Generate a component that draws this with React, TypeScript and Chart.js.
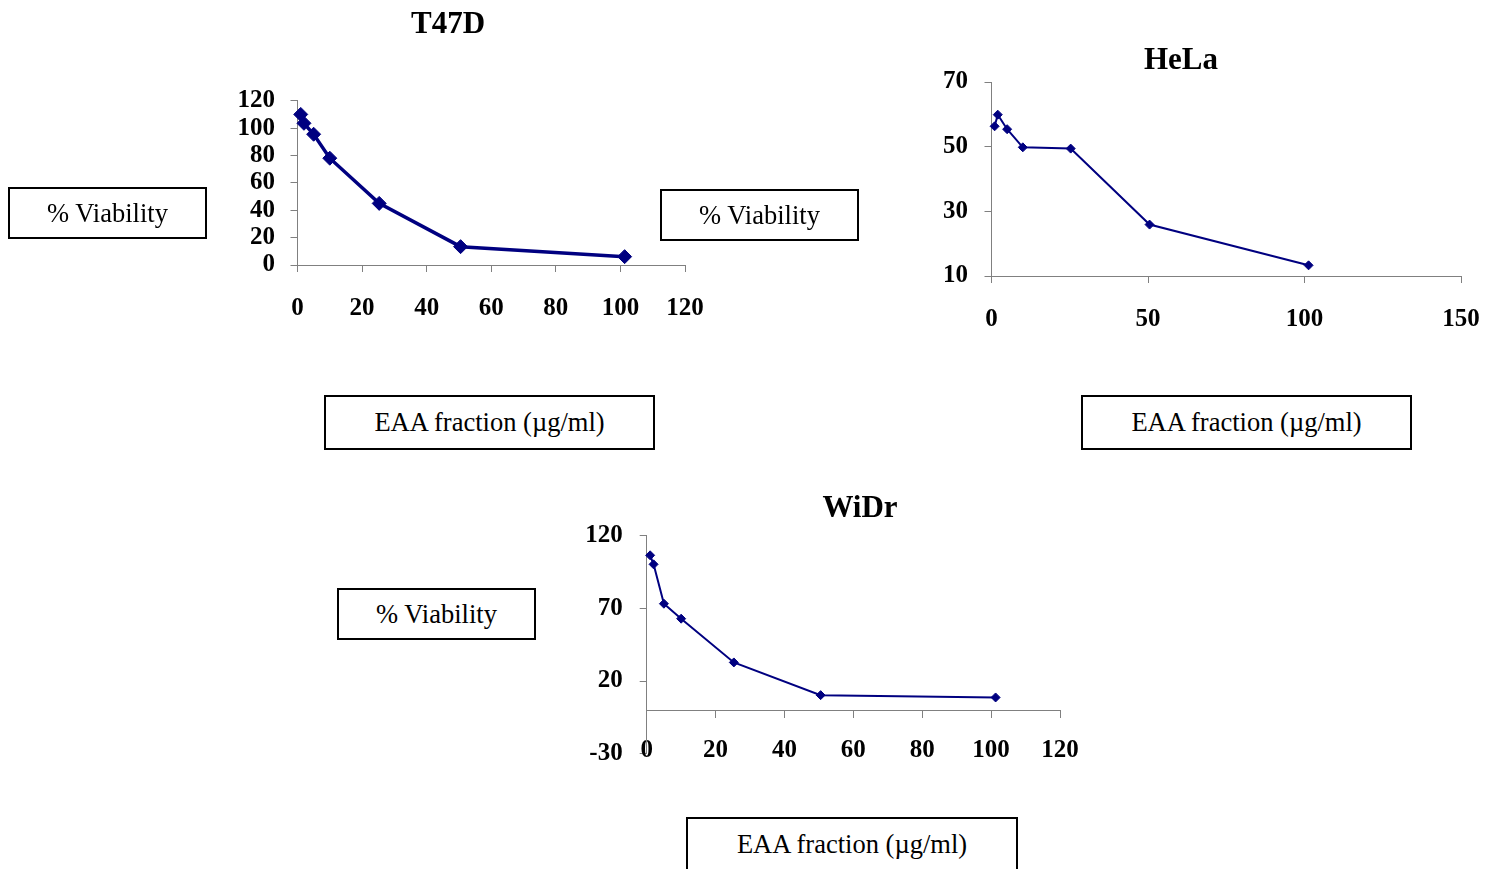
import React, { useEffect, useRef } from "react";
import { Chart, registerables } from "chart.js";

Chart.register(...registerables);

// ---- data ----
const eaaConcentration = [1, 2, 5, 10, 25.3, 50.5, 101.3];
const t47dViability = [110, 103.5, 95.5, 78, 45, 13.4, 6.1];
const helaViability = [56.3, 59.9, 55.4, 49.8, 49.4, 25.9, 13.3];
const widrViability = [106.5, 100.3, 73.2, 62.9, 32.8, 10.3, 8.7];

const t47dXTicks = [0, 20, 40, 60, 80, 100, 120];
const t47dYTicks = [0, 20, 40, 60, 80, 100, 120];
const helaXTicks = [0, 50, 100, 150];
const helaYTicks = [10, 30, 50, 70];
const widrXTicks = [0, 20, 40, 60, 80, 100, 120];
const widrYTicks = [-30, 20, 70, 120];

const yAxisLabel = "% Viability";
const xAxisLabel = "EAA fraction (\u00b5g/ml)";

const NAVY = "#000080";
const AXIS = "#808080";
const SERIF = "'Liberation Serif', 'Times New Roman', Times, serif";

type Spec = {
  title: string;
  values: number[];
  xTicks: number[];
  yTicks: number[];
  left: number;
  top: number;
  width: number;
  height: number;
  pad: { left: number; right: number; top: number; bottom: number };
  titlePad: { top: number; bottom: number };
  yWidth: number;
  xHeight?: number;
  xAtZero?: boolean;
  rightGap?: number;
  lineWidth: number;
  radius: number;
  yPad: number;
  xPad: number;
};

function ChartBox({ spec }: { spec: Spec }) {
  const ref = useRef<HTMLCanvasElement | null>(null);
  useEffect(() => {
    if (!ref.current) return;
    const s = spec;
    const scales: any = {
      x: {
        type: "linear",
        min: s.xTicks[0],
        max: s.xTicks[s.xTicks.length - 1],
        position: s.xAtZero ? { y: 0 } : "bottom",
        afterBuildTicks: (axis: any) => {
          axis.ticks = s.xTicks.map((v) => ({ value: v }));
        },
        ticks: {
          font: { family: SERIF, size: 25, weight: "bold" },
          color: "#000",
          padding: s.xPad,
          autoSkip: false,
          maxRotation: 0,
          minRotation: 0,
        },
        grid: { drawOnChartArea: false, drawTicks: true, tickLength: 7, color: AXIS, lineWidth: 1 },
        border: { display: true, color: AXIS, width: 1 },
      },
      y: {
        type: "linear",
        position: "left",
        min: s.yTicks[0],
        max: s.yTicks[s.yTicks.length - 1],
        afterBuildTicks: (axis: any) => {
          axis.ticks = s.yTicks.map((v) => ({ value: v }));
        },
        afterFit: (axis: any) => {
          axis.width = s.yWidth;
        },
        ticks: {
          font: { family: SERIF, size: 25, weight: "bold" },
          color: "#000",
          padding: s.yPad,
          autoSkip: false,
        },
        grid: { drawOnChartArea: false, drawTicks: true, tickLength: 7, color: AXIS, lineWidth: 1 },
        border: { display: true, color: AXIS, width: 1 },
      },
    };
    if (s.xHeight !== undefined) {
      scales.x.afterFit = (axis: any) => {
        axis.height = s.xHeight;
      };
    }
    if (s.rightGap) {
      scales.y2 = {
        type: "linear",
        position: "right",
        display: true,
        grid: { display: false, drawTicks: false },
        border: { display: false },
        ticks: { display: false },
        afterFit: (axis: any) => {
          axis.width = s.rightGap;
        },
      };
    }
    const chart = new Chart(ref.current, {
      type: "line",
      data: {
        datasets: [
          {
            label: s.title,
            data: eaaConcentration.map((x, i) => ({ x, y: s.values[i] })),
            borderColor: NAVY,
            backgroundColor: NAVY,
            borderWidth: s.lineWidth,
            pointStyle: "rectRot",
            pointRadius: s.radius,
            pointBorderWidth: 1,
            pointBorderColor: NAVY,
            pointBackgroundColor: NAVY,
            tension: 0,
            clip: false,
          } as any,
        ],
      },
      options: {
        animation: false,
        responsive: false,
        maintainAspectRatio: false,
        devicePixelRatio: 1,
        layout: { padding: s.pad },
        plugins: {
          legend: { display: false },
          tooltip: { enabled: false },
          title: {
            display: true,
            text: s.title,
            color: "#000",
            font: { family: SERIF, size: 31, weight: "bold", lineHeight: 1.2 },
            padding: s.titlePad,
          },
        },
        scales,
      } as any,
    });
    return () => chart.destroy();
  }, [spec]);
  return (
    <canvas
      ref={ref}
      width={spec.width}
      height={spec.height}
      style={{
        position: "absolute",
        left: spec.left,
        top: spec.top,
        width: spec.width,
        height: spec.height,
      }}
    />
  );
}

const t47dSpec: Spec = {
  title: "T47D",
  values: t47dViability,
  xTicks: t47dXTicks,
  yTicks: t47dYTicks,
  left: 166,
  top: 0,
  width: 564,
  height: 340,
  pad: { left: 45, right: 45, top: 0, bottom: 0 },
  titlePad: { top: 6.5, bottom: 57 },
  yWidth: 86.5,
  xHeight: 75,
  lineWidth: 3.5,
  radius: 7,
  yPad: 15.5,
  xPad: 21.5,
};

const helaSpec: Spec = {
  title: "HeLa",
  values: helaViability,
  xTicks: helaXTicks,
  yTicks: helaYTicks,
  left: 856,
  top: 0,
  width: 650,
  height: 350,
  pad: { left: 45, right: 45, top: 0, bottom: 0 },
  titlePad: { top: 42.5, bottom: 2.3 },
  yWidth: 90.5,
  xHeight: 74,
  lineWidth: 2,
  radius: 4.5,
  yPad: 16.5,
  xPad: 22,
};

const widrSpec: Spec = {
  title: "WiDr",
  values: widrViability,
  xTicks: widrXTicks,
  yTicks: widrYTicks,
  left: 560,
  top: 460,
  width: 610,
  height: 334,
  pad: { left: 0, right: 10, top: 0, bottom: 40.3 },
  titlePad: { top: 30, bottom: 8.5 },
  yWidth: 86.7,
  xAtZero: true,
  rightGap: 100,
  lineWidth: 2,
  radius: 4.5,
  yPad: 17,
  xPad: 18.7,
};

function LabelBox({ text, left, top, width, height }: { text: string; left: number; top: number; width: number; height: number }) {
  return (
    <div
      style={{
        position: "absolute",
        left,
        top,
        width,
        height,
        boxSizing: "border-box",
        border: "2px solid #000",
        display: "flex",
        alignItems: "center",
        justifyContent: "center",
        fontFamily: SERIF,
        fontSize: 26.5,
        color: "#000",
        whiteSpace: "nowrap",
      }}
    >
      {text}
    </div>
  );
}

export default function App() {
  return (
    <div
      style={{
        position: "fixed",
        left: 0,
        top: 0,
        width: 1498,
        height: 869,
        overflow: "hidden",
        background: "#fff",
      }}
    >
      <ChartBox spec={t47dSpec} />
      <ChartBox spec={helaSpec} />
      <ChartBox spec={widrSpec} />
      <LabelBox text={yAxisLabel} left={8} top={187} width={199} height={52} />
      <LabelBox text={yAxisLabel} left={660} top={189} width={199} height={52} />
      <LabelBox text={yAxisLabel} left={337} top={588} width={199} height={52} />
      <LabelBox text={xAxisLabel} left={324} top={395} width={331} height={55} />
      <LabelBox text={xAxisLabel} left={1081} top={395} width={331} height={55} />
      <LabelBox text={xAxisLabel} left={686} top={817} width={332} height={55} />
    </div>
  );
}
